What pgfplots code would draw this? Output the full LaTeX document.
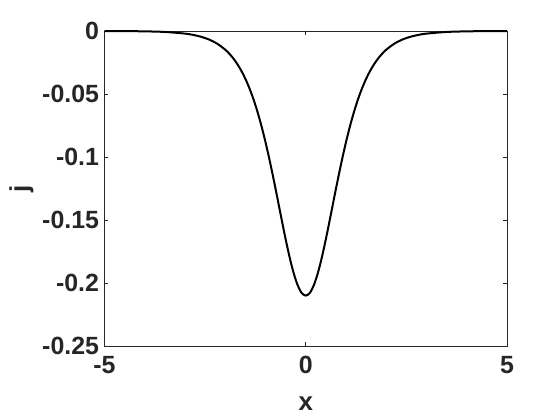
\documentclass[border=0pt]{standalone}
\usepackage{pgfplots}
\pgfplotsset{compat=1.18}
\usepackage{fontspec}
\setmainfont{Liberation Sans}
\begin{document}
\begin{tikzpicture}[x=1bp,y=1bp]
\begin{axis}[
  scale only axis,
  width=402.5bp, height=315bp,
  xmin=-5, xmax=5, ymin=-0.25, ymax=0,
  xtick={-5,0,5}, xticklabels={-5,0,5},
  ytick={-0.25,-0.2,-0.15,-0.1,-0.05,0},
  yticklabels={-0.25,-0.2,-0.15,-0.1,-0.05,0},
  tick align=inside, major tick length=4bp,
  axis line style={line width=0.8bp, draw=black!85},
  every tick/.style={line width=0.8bp, black!85},
  /pgf/number format/assume math mode=true,
  tick label style={font=\fontsize{25}{28}\selectfont\bfseries, text=black!85},
  xticklabel style={yshift=-7bp},
  yticklabel style={xshift=-2bp},
  xlabel={x}, ylabel={j},
  label style={font=\fontsize{26}{29}\selectfont\bfseries, text=black!85},
  xlabel style={at={(axis description cs:0.5,0)}, anchor=center, yshift=-58bp},
  ylabel style={at={(axis description cs:0,0.5)}, anchor=center, yshift=83bp},
]
\addplot[black, line width=2bp, smooth] coordinates {
(-5.0,-0.00004) (-4.5,-0.00010) (-4.0,-0.00028) (-3.5,-0.00076) (-3.0,-0.00207)
(-2.8,-0.00308) (-2.6,-0.00458) (-2.4,-0.00680) (-2.2,-0.01006) (-2.0,-0.01484)
(-1.9,-0.01798) (-1.8,-0.02175) (-1.7,-0.02625) (-1.6,-0.03161) (-1.5,-0.03795)
(-1.4,-0.04539) (-1.3,-0.05406) (-1.2,-0.06405) (-1.1,-0.07543) (-1.0,-0.08819)
(-0.9,-0.10225) (-0.8,-0.11740) (-0.7,-0.13330) (-0.6,-0.14943) (-0.5,-0.16515)
(-0.4,-0.17968) (-0.3,-0.19218) (-0.2,-0.20182) (-0.1,-0.20791) (0.0,-0.21000)
(0.1,-0.20791) (0.2,-0.20182) (0.3,-0.19218) (0.4,-0.17968) (0.5,-0.16515)
(0.6,-0.14943) (0.7,-0.13330) (0.8,-0.11740) (0.9,-0.10225) (1.0,-0.08819)
(1.1,-0.07543) (1.2,-0.06405) (1.3,-0.05406) (1.4,-0.04539) (1.5,-0.03795)
(1.6,-0.03161) (1.7,-0.02625) (1.8,-0.02175) (1.9,-0.01798) (2.0,-0.01484)
(2.2,-0.01006) (2.4,-0.00680) (2.6,-0.00458) (2.8,-0.00308) (3.0,-0.00207)
(3.5,-0.00076) (4.0,-0.00028) (4.5,-0.00010) (5.0,-0.00004)
};
\end{axis}
\pgfresetboundingbox
\useasboundingbox ([xshift=-104.5bp,yshift=-74bp]current axis.south west) rectangle ([xshift=53bp,yshift=31bp]current axis.north east);
\end{tikzpicture}
\end{document}
